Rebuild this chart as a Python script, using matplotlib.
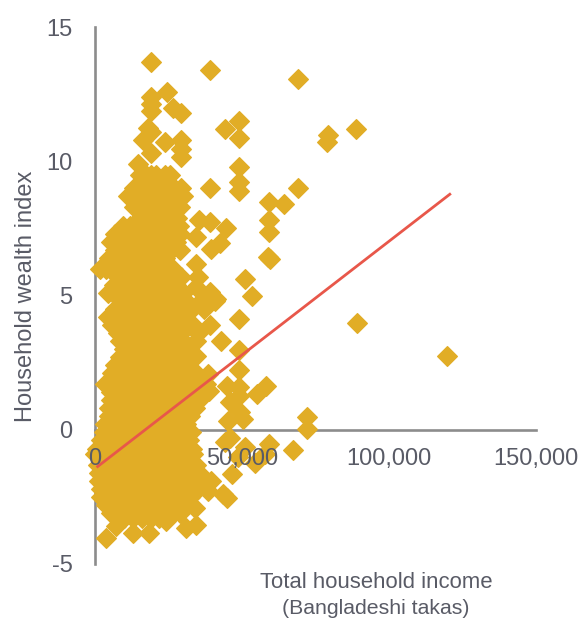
import matplotlib
matplotlib.use("Agg")
import matplotlib.pyplot as plt

plt.rcParams['font.family'] = ['Liberation Sans', 'DejaVu Sans']
plt.rcParams['axes.unicode_minus'] = False

# points that stand apart, read one by one
income_single = [19300, 39200, 69100, 24700, 19300, 19300, 19300, 26600, 29200, 49200, 44400, 49200,
                 18100, 19300, 16500, 23800, 29200, 29200, 29200, 19300, 14700, 49200, 49200, 49200,
                 39200, 69100, 59200, 64500, 59200, 59200, 59600, 59000, 44500, 39200, 35400, 34600,
                 42500, 39700, 51000, 53600, 79200, 78900, 88700, 89100, 119900,
                 34600, 35000, 39100, 41400, 34600, 49100, 49100, 44800, 49100, 58100, 55000, 45900,
                 49100, 45300, 50400, 49300, 45900, 44200, 51000, 48600, 59200, 54400, 57800, 67400,
                 72000, 72000, 46500, 44800, 43600, 38500, 39700, 34000, 34600, 31200, 24400, 18400,
                 13000, 7400, 3700, 42800, 40800, 38800, 38400, 34600, 49200]
wealth_single = [13.68, 13.38, 13.08, 12.59, 12.4, 12.15, 11.88, 11.99, 11.8, 11.49, 11.19, 10.87,
                 11.25, 11.1, 10.8, 10.71, 10.8, 10.47, 10.16, 10.3, 9.89, 9.8, 9.23, 8.89,
                 9.0, 9.0, 8.49, 8.41, 7.8, 7.38, 6.37, 6.42, 7.51, 7.74, 7.8, 7.18,
                 6.96, 6.72, 5.62, 5.0, 10.97, 10.7, 11.19, 3.96, 2.73,
                 6.18, 5.68, 5.12, 4.88, 5.31, 2.97, 2.23, 1.64, 1.58, 1.64, 1.33, 1.02,
                 1.25, 0.34, 0.4, 0.65, -0.29, -0.47, -0.66, -1.03, -0.53, -1.22, -0.9, -0.75,
                 0.46, 0.03, -1.66, -2.55, -2.4, -2.28, -1.9, -2.9, -3.55, -3.65, -3.4, -3.83,
                 -3.83, -3.58, -4.04, 3.32, 4.81, 1.45, 2.08, 2.76, 4.13]

# the crowded part, read band by band
band_wealth = [9.5, 9.0, 8.7, 8.3, 7.9, 7.6, 7.3, 7.0, 6.7, 6.4, 6.0, 5.7, 5.4, 5.1, 4.8, 4.5, 4.2, 3.9,
               3.6, 3.3, 3.0, 2.7, 2.4, 2.1, 1.7, 1.4, 1.1, 0.8, 0.5, 0.2, -0.1, -0.4, -0.7, -0.9,
               -1.3, -1.6, -1.9, -2.2, -2.5, -2.8, -3.1, -3.3]
band_income = [
    [15500, 17500, 19300, 21000, 24000, 25500],
    [13500, 15500, 17500, 19500, 21000, 23000, 25000, 27000, 29200],
    [11300, 13000, 15500, 18000, 20000, 22000, 25000, 27000, 30000],
    [13500, 16500, 19000, 21000, 24500, 27000, 29000],
    [15500, 18000, 20000, 23000, 26000, 28000],
    [9600, 12000, 15000, 17000, 19500, 22000, 24500, 28500],
    [6800, 9000, 11500, 14000, 17000, 19500, 22000, 25000, 29000],
    [5500, 8000, 10500, 13000, 16000, 18500, 21000, 24000, 27500],
    [6800, 9500, 12000, 14500, 17000, 20000, 23000, 26000, 29000],
    [5000, 7500, 10500, 13000, 15500, 18500, 21500, 24000],
    [1900, 4000, 6500, 9000, 12000, 15000, 18000, 20500, 23000, 26500],
    [8000, 10500, 13500, 16500, 19500, 22000, 25000, 29500],
    [6500, 9500, 12000, 15000, 18000, 21000, 24500, 27500],
    [4500, 8000, 11000, 13500, 16500, 19500, 23000, 26500, 30000],
    [9000, 12500, 15000, 18000, 21000, 24000, 27000, 31000, 36000],
    [7000, 10500, 13500, 16500, 19500, 22500, 25500, 28500, 33000, 37000],
    [4500, 9000, 12000, 15000, 18000, 21000, 24000, 27000, 30500],
    [6000, 10000, 13000, 16000, 19000, 22000, 25000, 28000, 33400, 39100],
    [8000, 11500, 14500, 17500, 20500, 23500, 26500, 29500, 35000],
    [8600, 12000, 15000, 18000, 21000, 24000, 27000, 30000, 34600],
    [10000, 13000, 16000, 19000, 22000, 25000, 28000, 31000],
    [8500, 11500, 14500, 17500, 20500, 23500, 26500, 29500, 33000],
    [7000, 10000, 13000, 16000, 19000, 22000, 25000, 28000, 31000],
    [6000, 9000, 12000, 15000, 18000, 21000, 24000, 27000, 30000, 34500],
    [3600, 7000, 10000, 13000, 16000, 19000, 22000, 25000, 28000, 31000, 35000, 38000],
    [5500, 8500, 11500, 14500, 17500, 20500, 23500, 26500, 29500, 33000, 37000],
    [5500, 8000, 11000, 14000, 17000, 20000, 23000, 26000, 29000, 32000, 35500],
    [4800, 7500, 10000, 13000, 16000, 19000, 22000, 25000, 28000, 31000, 34000],
    [5000, 8500, 11500, 14500, 17500, 20500, 23500, 26500, 29500, 32500],
    [3500, 7000, 10000, 13000, 16000, 19000, 22000, 25000, 28000, 31000],
    [3000, 6000, 9000, 12000, 15000, 18000, 21000, 24000, 27000, 30000, 32600],
    [2000, 5000, 8000, 11000, 14000, 17000, 20000, 23000, 26000, 29000, 32000],
    [800, 3500, 6500, 9500, 12500, 15500, 18500, 21500, 24500, 27500, 30500, 33000],
    [200, 3000, 6000, 9000, 12000, 15000, 18000, 21000, 24000, 27000, 30000, 33500],
    [1000, 4000, 7000, 10000, 13000, 16000, 19000, 22000, 25000, 28000, 31000, 34500],
    [1400, 4500, 7500, 10500, 13500, 16500, 19500, 22500, 25500, 28500, 31500, 35500],
    [1400, 4000, 7000, 10000, 13000, 16000, 19000, 22000, 25000, 28000, 31000, 34000],
    [2000, 5000, 8000, 11000, 14000, 17000, 20000, 23000, 26000, 29000, 32000, 35000],
    [2300, 5500, 8500, 11500, 14500, 17500, 20500, 23500, 26500, 29500, 32500],
    [4000, 7000, 10000, 13000, 16000, 19000, 22000, 25000, 28000, 31000],
    [5500, 8500, 11500, 14500, 17500, 20500, 23500, 26500, 29000],
    [10000, 13000, 16000, 19000, 22000, 24500],
]

trend_income = [1000, 120700]
trend_wealth = [-1.37, 8.77]

x_ticks = [0, 50000, 100000, 150000]
y_ticks = [-5, 0, 5, 10, 15]

for w, row in zip(band_wealth, band_income):
    income_single = income_single + row
    wealth_single = wealth_single + [w] * len(row)

TEXT = '#595B66'
AXIS = '#8C8C8C'

fig = plt.figure(figsize=(5.82, 6.19), dpi=100)
ax = fig.add_axes([94.7 / 582, 1 - 564 / 619, (536 - 94.7) / 582, (564 - 27) / 619])

ax.scatter(income_single, wealth_single, marker='D', s=100, color='#E1AD26', edgecolors='#E1AD26',
           linewidths=1.0, joinstyle='round', clip_on=False, zorder=1)
ax.plot(trend_income, trend_wealth, color='#E8574A', lw=2.0, zorder=2)

ax.set_xlim(0, 150000)
ax.set_ylim(-5, 15)
ax.spines['top'].set_visible(False)
ax.spines['right'].set_visible(False)
ax.spines['left'].set_position(('data', 0))
ax.spines['bottom'].set_position(('data', 0))
for side in ['left', 'bottom']:
    ax.spines[side].set_color(AXIS)
    ax.spines[side].set_linewidth(1.9)
    ax.spines[side].set_zorder(0.5)

ax.set_axisbelow(False)
ax.set_xticks(x_ticks)
ax.set_xticklabels([f"{v:,}" for v in x_ticks])
ax.set_yticks(y_ticks)
ax.tick_params(axis='x', length=0, pad=13, labelsize=17, labelcolor=TEXT)
ax.tick_params(axis='y', length=0, pad=16, labelsize=17, labelcolor=TEXT)

fig.text(26.5 / 582, 1 - 296 / 619, "Household wealth index", rotation=90, ha='center', va='center',
         fontsize=17, color=TEXT)
fig.text(376 / 582, 1 - 582 / 619, "Total household income", ha='center', va='center', fontsize=15.9, color=TEXT)
fig.text(376 / 582, 1 - 608 / 619, "(Bangladeshi takas)", ha='center', va='center', fontsize=15.3, color=TEXT)

fig.savefig("out.png", dpi=100)
